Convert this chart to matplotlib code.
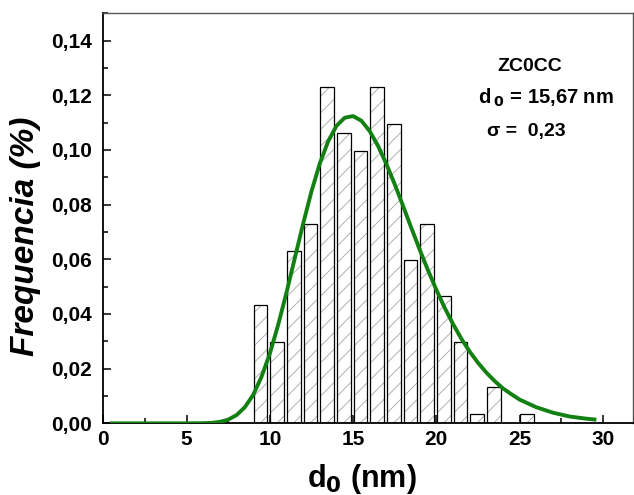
import matplotlib
matplotlib.use("Agg")
import matplotlib.pyplot as plt
from matplotlib.ticker import MultipleLocator, FuncFormatter

plt.rcParams['font.family'] = ['Liberation Sans', 'DejaVu Sans']
plt.rcParams['hatch.linewidth'] = 0.7

# Histogram (bin centres in nm, relative frequency)
bin_centers = [9.45, 10.45, 11.45, 12.45, 13.45, 14.45, 15.45, 16.45, 17.45,
               18.45, 19.45, 20.45, 21.45, 22.45, 23.45, 25.45]
frequency = [0.0432, 0.0299, 0.0631, 0.0731, 0.1229, 0.1063, 0.0997, 0.1229, 0.1096,
             0.0598, 0.0731, 0.0465, 0.0299, 0.0033, 0.0133, 0.0033]
bar_width = 0.82

# Log-normal fit curve
fit_x = [0.5, 2, 4, 5, 6, 6.5, 7, 7.5, 8, 8.5, 9, 9.5, 10, 10.5, 11, 11.5, 12, 12.5,
         13, 13.5, 14, 14.5, 15, 15.5, 16, 16.5, 17, 17.5, 18, 18.5, 19, 19.5, 20,
         20.5, 21, 21.5, 22, 22.5, 23, 23.5, 24, 24.5, 25, 26, 27, 28, 29, 29.5]
fit_y = [0.0, 0.0, 0.0, 0.0, 0.00005, 0.00017, 0.00053, 0.00135, 0.0030, 0.0059,
         0.0104, 0.0170, 0.0255, 0.0360, 0.0478, 0.0604, 0.0730, 0.0848,
         0.0950, 0.1031, 0.1088, 0.1118, 0.1124, 0.1107, 0.1069, 0.1015, 0.0949,
         0.0875, 0.0796, 0.0715, 0.0636, 0.0560, 0.0489, 0.0423, 0.0364, 0.0310,
         0.0263, 0.0222, 0.0186, 0.0155, 0.0128, 0.0107, 0.0087, 0.0059, 0.0039,
         0.0025, 0.0017, 0.0014]

fig = plt.figure(figsize=(6.34, 4.95), dpi=100)
ax = fig.add_axes([0.163, 0.1448, 0.835, 0.8283])

# hatched fill
ax.bar(bin_centers, frequency, width=bar_width, color='white', edgecolor='#b0b0b0',
       hatch='//', linewidth=0, zorder=2)
# outlines
ax.bar(bin_centers, frequency, width=bar_width, fill=False, edgecolor='black',
       linewidth=0.9, zorder=3)

ax.plot(fit_x, fit_y, color='#138013', linewidth=2.8, zorder=4)

ax.set_xlim(0, 31.8)
ax.set_ylim(0, 0.15)

ax.xaxis.set_major_locator(MultipleLocator(5))
ax.xaxis.set_minor_locator(MultipleLocator(2.5))
ax.yaxis.set_major_locator(MultipleLocator(0.02))
ax.yaxis.set_minor_locator(MultipleLocator(0.01))
ax.yaxis.set_major_formatter(FuncFormatter(lambda v, p: f"{v:.2f}".replace('.', ',')))
ax.xaxis.set_major_formatter(FuncFormatter(lambda v, p: f"{v:g}"))

ax.tick_params(which='both', direction='in', top=False, right=False)
ax.tick_params(which='major', length=6, width=1.1, labelsize=15)
ax.tick_params(axis='y', which='major', pad=8)
ax.tick_params(axis='x', which='major', pad=5)
ax.tick_params(which='minor', length=3.5, width=1.1)
for lab in ax.get_xticklabels() + ax.get_yticklabels():
    lab.set_fontweight('bold')

for s in ['left', 'bottom']:
    ax.spines[s].set_linewidth(1.3)
    ax.spines[s].set_color('black')
for s in ['top', 'right']:
    ax.spines[s].set_linewidth(1.0)
    ax.spines[s].set_color('#555555')

ax.set_xlabel(r'd$_\mathbf{0}$ (nm)', fontsize=22, fontweight='bold')
ax.xaxis.set_label_coords(0.488, -0.095)
ax.set_ylabel('Frequencia (%)', fontsize=24, fontweight='bold', style='italic')
ax.yaxis.set_label_coords(-0.117, 0.457)

ax.text(25.6, 0.1305, 'ZC0CC', fontsize=14, fontweight='bold', ha='center', va='center')
ax.text(26.6, 0.1190, r'd$\,_\mathbf{0}$ = 15,67 nm', fontsize=14.5, fontweight='bold',
        ha='center', va='center')
ax.text(25.4, 0.1068, 'σ =  0,23', fontsize=14, fontweight='bold', ha='center', va='center')

fig.savefig('out.png', dpi=100)
